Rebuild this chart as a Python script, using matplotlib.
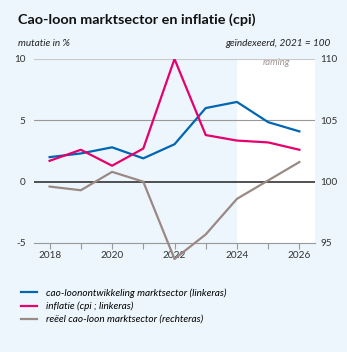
import numpy as np
import matplotlib
matplotlib.use('Agg')
import matplotlib.pyplot as plt

plt.rcParams['font.family'] = ['Lato', 'DejaVu Sans']

# data
years = [2018, 2019, 2020, 2021, 2022, 2023, 2024, 2025, 2026]
cao_loon = [2.0, 2.3, 2.8, 1.9, 3.05, 6.0, 6.5, 4.85, 4.1]
inflatie = [1.7, 2.6, 1.3, 2.7, 10.0, 3.8, 3.35, 3.2, 2.6]
reeel_index = [99.6, 99.3, 100.8, 100.0, 93.7, 95.7, 98.6, 100.1, 101.6]
tick_years = [2018, 2020, 2022, 2024, 2026]
forecast_start = 2024

bg = '#edf6fd'
blue = '#0066b3'
pink = '#e5006d'
grey = '#9a8984'

fig = plt.figure(figsize=(3.47, 3.52), dpi=100, facecolor=bg)
ax = fig.add_axes([34/347, 1 - 243/352, (315 - 34)/347, (243 - 59)/352])
ax.set_facecolor(bg)
ax.set_xlim(2017.5, 2026.5)
ax.set_ylim(-5, 10)

# forecast region
ax.axvspan(forecast_start, 2026.5, color='white', zorder=0, lw=0)
ax.text((forecast_start + 2026.5) / 2, 9.75, 'raming', ha='center', va='center',
        fontsize=6.8, style='italic', color='#a09590')

# grid lines
ax.axhline(10, color='#c8c8c8', lw=0.8, zorder=1)
ax.axhline(5, color='#999999', lw=0.8, zorder=1)
ax.axhline(0, color='#222222', lw=1.1, zorder=1)
for s in ['top', 'right', 'left']:
    ax.spines[s].set_visible(False)
ax.spines['bottom'].set_color('#999999')
ax.spines['bottom'].set_linewidth(0.8)

ax.set_yticks([-5, 0, 5, 10])
ax.set_yticklabels(['-5', '0', '5', '10'])
ax.tick_params(axis='y', length=0, labelsize=7.2, colors='#333333', pad=6)
ax.set_xticks(years, minor=False)
ax.set_xticklabels([str(y) if y in tick_years else '' for y in years])
ax.tick_params(axis='x', length=4, width=0.8, color='#999999', labelsize=7.2,
               labelcolor='#333333', pad=2)

ax.plot(years, cao_loon, color=blue, lw=1.6, zorder=3,
        label='cao-loonontwikkeling marktsector (linkeras)')
ax.plot(years, inflatie, color=pink, lw=1.6, zorder=3,
        label='inflatie (cpi ; linkeras)')

ax2 = ax.twinx()
ax2.set_ylim(95, 110)
ax2.set_yticks([95, 100, 105, 110])
ax2.tick_params(axis='y', length=0, labelsize=7.2, colors='#333333', pad=4)
for s in ax2.spines.values():
    s.set_visible(False)
ax2.plot(years, reeel_index, color=grey, lw=1.6, zorder=3, clip_on=False,
         label='reëel cao-loon marktsector (rechteras)')

# titles
fig.text(18/347, 1 - 20/352, 'Cao-loon marktsector en inflatie (cpi)', fontsize=10.4,
         fontweight='bold', color='#111111', va='center')
fig.text(18/347, 1 - 43/352, 'mutatie in %', fontsize=7.2, style='italic',
         color='#222222', va='center')
fig.text(331/347, 1 - 43/352, 'geïndexeerd, 2021 = 100', fontsize=7.2, style='italic',
         color='#222222', va='center', ha='right')

handles = ax.get_lines()[-2:] + ax2.get_lines()
handles = [h for h in handles if h.get_label() and not h.get_label().startswith('_')]
fig.legend(handles, [h.get_label() for h in handles], loc='upper left',
           bbox_to_anchor=(12/347, 1 - 279/352), frameon=False,
           handlelength=1.6, handletextpad=0.9, labelspacing=0.4,
           prop={'style': 'italic', 'size': 7.2})

fig.savefig('out.png', dpi=100, facecolor=bg)
